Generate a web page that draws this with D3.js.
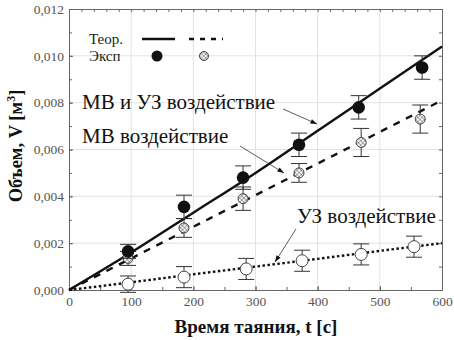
<!DOCTYPE html>
<html><head><meta charset="utf-8">
<script src="https://cdn.jsdelivr.net/npm/d3@7"></script>
</head><body style="margin:0;background:#fff"><svg id="c" width="454" height="340" style="display:block"></svg>
<script>
const xTicks=[0,100,200,300,400,500,600];
const yTicks=[0,0.002,0.004,0.006,0.008,0.010,0.012];
// Experimental points
const tBoth=[95,185,280,370,466,568];
const vBoth=[0.00165,0.00355,0.0048,0.0062,0.0078,0.0095];
const eBoth=[0.0003,0.0005,0.0005,0.0005,0.0005,0.0005];
const tMW=[95,185,280,370,470,565];
const vMW=[0.00135,0.00265,0.0039,0.0050,0.0063,0.0073];
const eMW=[0.0003,0.0004,0.0005,0.0004,0.0006,0.0006];
const tUS=[95,185,285,375,470,555];
const vUS=[0.00025,0.00055,0.0009,0.00125,0.00152,0.00185];
const eUS=[0.00035,0.00045,0.00045,0.00045,0.00045,0.00045];
// Theory lines
const tTheory=[0,100,200,300,400,500,600];
const vThBoth=[0,0.0016,0.0033,0.0050,0.0068,0.0086,0.0104];
const vThMW=[0,0.00135,0.0027,0.00405,0.0054,0.00675,0.0081];
const vThUS=[0,0.00033,0.00067,0.001,0.00133,0.00167,0.002];

const FF="'Liberation Serif', 'Times New Roman', serif";
const svg=d3.select("#c");
const x=d3.scaleLinear().domain([0,600]).range([69,442]);
const y=d3.scaleLinear().domain([0,0.012]).range([290,9]);
const fmt=v=>d3.format(".3f")(v).replace(".",",");

const defs=svg.append("defs");
const pat=defs.append("pattern").attr("id","hatch").attr("patternUnits","userSpaceOnUse").attr("width",3).attr("height",3).attr("patternTransform","rotate(45)");
pat.append("rect").attr("width",3).attr("height",3).attr("fill","#fff");
pat.append("line").attr("x1",0).attr("y1",0).attr("x2",0).attr("y2",3).attr("stroke","#555").attr("stroke-width",1);
pat.append("line").attr("x1",0).attr("y1",0).attr("x2",3).attr("y2",0).attr("stroke","#555").attr("stroke-width",1);

// grid
svg.append("g").selectAll("line").data(xTicks.slice(1,-1)).join("line")
 .attr("x1",d=>x(d)).attr("x2",d=>x(d)).attr("y1",y(0)).attr("y2",y(0.012)).attr("stroke","#e2e2e2");
svg.append("g").selectAll("line").data(yTicks.slice(1,-1)).join("line")
 .attr("y1",d=>y(d)).attr("y2",d=>y(d)).attr("x1",x(0)).attr("x2",x(600)).attr("stroke","#e2e2e2");

// axes
const ax=svg.append("g").attr("transform",`translate(0,${y(0)})`).call(d3.axisBottom(x).tickValues(xTicks).tickSize(-4).tickPadding(6).tickFormat(d=>d));
const ay=svg.append("g").attr("transform",`translate(${x(0)},0)`).call(d3.axisLeft(y).tickValues(yTicks).tickSize(-4).tickPadding(5).tickFormat(fmt));
const at=svg.append("g").attr("transform",`translate(0,${y(0.012)})`).call(d3.axisTop(x).ticks(30).tickSize(-3).tickFormat(""));
const ar=svg.append("g").attr("transform",`translate(${x(600)},0)`).call(d3.axisRight(y).ticks(12).tickSize(-3).tickFormat(""));
const am=svg.append("g").attr("transform",`translate(${x(0)},0)`).call(d3.axisLeft(y).ticks(12).tickSize(-3).tickFormat(""));
const amb=svg.append("g").attr("transform",`translate(0,${y(0)})`).call(d3.axisBottom(x).ticks(12).tickSize(-3).tickFormat(""));
[ax,ay,at,ar,am,amb].forEach(g=>{g.attr("font-family",null);g.selectAll("path").attr("stroke","#666");g.selectAll("line").attr("stroke","#666");
 g.selectAll("text").attr("fill","#555").style("font-family",FF).style("font-size","13.5px");});

// theory lines
const line=d3.line().x(d=>x(d[0])).y(d=>y(d[1])).curve(d3.curveMonotoneX);
svg.append("path").datum(tTheory.map((t,i)=>[t,vThBoth[i]])).attr("d",line).attr("fill","none").attr("stroke","#111").attr("stroke-width",2.4);
svg.append("path").datum(tTheory.map((t,i)=>[t,vThMW[i]])).attr("d",line).attr("fill","none").attr("stroke","#111").attr("stroke-width",2.4).attr("stroke-dasharray","7,7");
svg.append("path").datum(tTheory.map((t,i)=>[t,vThUS[i]])).attr("d",line).attr("fill","none").attr("stroke","#111").attr("stroke-width",2.4).attr("stroke-dasharray","2.5,2.5");

// error bars + markers
function series(ts,vs,es,kind){
 const g=svg.append("g");
 ts.forEach((t,i)=>{
  const cx=x(t),v=vs[i],e=es[i];
  g.append("line").attr("x1",cx).attr("x2",cx).attr("y1",y(v+e)).attr("y2",y(v-e)).attr("stroke","#333").attr("stroke-width",1);
  [v+e,v-e].forEach(w=>g.append("line").attr("x1",cx-8).attr("x2",cx+8).attr("y1",y(w)).attr("y2",y(w)).attr("stroke","#333").attr("stroke-width",1));
  const c=g.append("circle").attr("cx",cx).attr("cy",y(v));
  if(kind==="fill") c.attr("r",6.3).attr("fill","#111");
  else if(kind==="hatch") c.attr("r",5).attr("fill","url(#hatch)").attr("stroke","#444").attr("stroke-width",1);
  else c.attr("r",6).attr("fill","#fff").attr("stroke","#444").attr("stroke-width",1);
 });
}
series(tUS,vUS,eUS,"open");
series(tMW,vMW,eMW,"hatch");
series(tBoth,vBoth,eBoth,"fill");

function T(xx,yy,size,txt){return svg.append("text").attr("x",xx).attr("y",yy).style("font-size",size+"px").style("font-family",FF).attr("fill","#111").text(txt);}
// legend
T(89,44,15,"Теор.").attr("fill","#222");
T(89,61,15,"Эксп").attr("fill","#222");
svg.append("line").attr("x1",142).attr("x2",175).attr("y1",39).attr("y2",39).attr("stroke","#111").attr("stroke-width",2.4);
svg.append("line").attr("x1",189).attr("x2",223).attr("y1",39).attr("y2",39).attr("stroke","#111").attr("stroke-width",2.4).attr("stroke-dasharray","5,6");
svg.append("circle").attr("cx",157).attr("cy",56).attr("r",5.5).attr("fill","#111");
svg.append("circle").attr("cx",204).attr("cy",56).attr("r",4.5).attr("fill","url(#hatch)").attr("stroke","#444");

// annotations
function ann(tx,ty,txt,x1,y1,x2,y2){
 T(tx,ty,21,txt);
 svg.append("line").attr("x1",x1).attr("y1",y1).attr("x2",x2).attr("y2",y2).attr("stroke","#333").attr("stroke-width",0.8);
 const a=Math.atan2(y2-y1,x2-x1),L=7,w=0.35;
 svg.append("path").attr("d",`M${x2},${y2}L${x2-L*Math.cos(a-w)},${y2-L*Math.sin(a-w)}L${x2-L*Math.cos(a+w)},${y2-L*Math.sin(a+w)}Z`).attr("fill","#111");
}
ann(82,109,"МВ и УЗ воздействие",283,109,317,124);
ann(82,143,"МВ воздействие",240,146,284,173);
ann(297,223,"УЗ воздействие",296,229,275,262);

// axis titles
T(256,333,19,"Время таяния, t [c]").attr("text-anchor","middle").style("font-weight","bold");
const yt=svg.append("text").attr("transform","translate(22,146) rotate(-90)").attr("text-anchor","middle").style("font-size","18.5px").style("font-weight","bold").style("font-family",FF).attr("fill","#111");
yt.append("tspan").text("Объем, V [м");
yt.append("tspan").attr("baseline-shift","super").style("font-size","12px").text("3");
yt.append("tspan").text("]");
</script></body></html>
